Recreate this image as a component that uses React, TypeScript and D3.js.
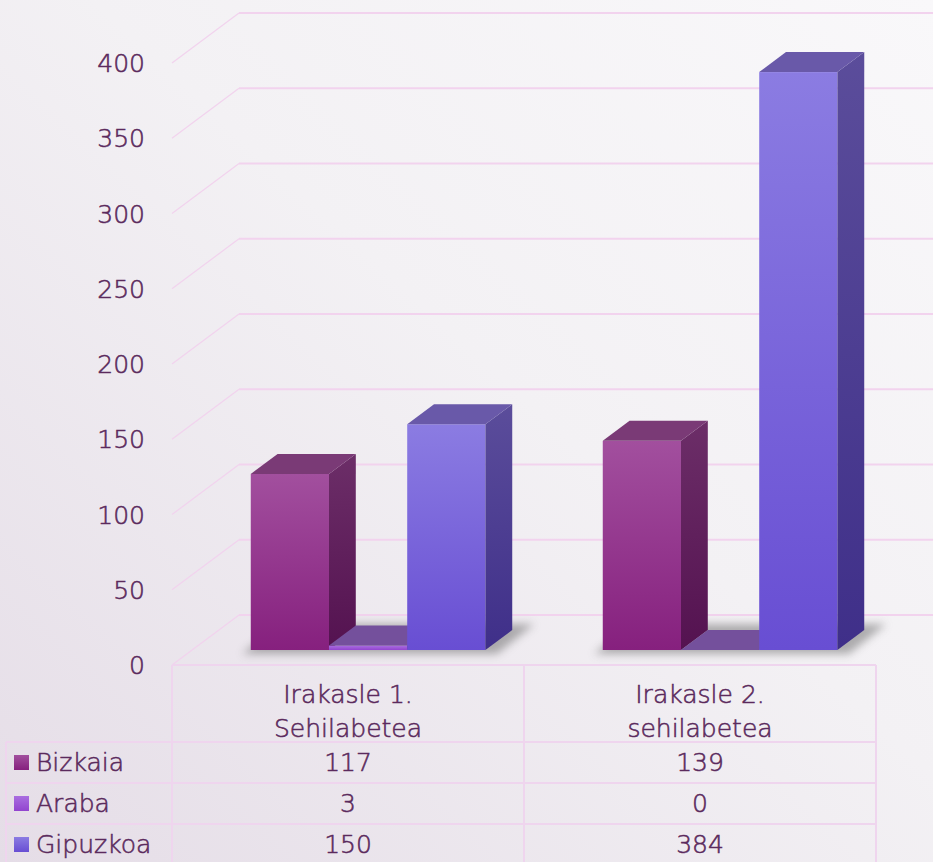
import React from 'react';
import * as d3 from 'd3';

// chart data
const categories = ['c1', 'c2'];
const categoryLabels = [['Irakasle 1.', 'Sehilabetea'], ['Irakasle 2.', 'sehilabetea']];
const series = ['Bizkaia', 'Araba', 'Gipuzkoa'];
const bizkaia = [117, 139];
const araba = [3, 0];
const gipuzkoa = [150, 384];
const yTicks = [0, 50, 100, 150, 200, 250, 300, 350, 400];

const seriesValues = [bizkaia, araba, gipuzkoa];

const colors = [
    { f0: '#a24f9e', f1: '#86207e', s0: '#6c2e68', s1: '#541250', top: '#7a3a76' },
    { f0: '#a96ee0', f1: '#9244cf', s0: '#6a3c8c', s1: '#5a2c7c', top: '#74509c' },
    { f0: '#8b7ce2', f1: '#684ed3', s0: '#5b4d9b', s1: '#3f2f89', top: '#6959a9' },
];

const W = 933, H = 862;
const left = 172, right = 876;
const DX = 67, DY = -50; // depth of the floor
const zF = 0.3, zB = 0.7; // bar depth range
const textColor = '#5b2a5d';
const gridColor = '#f2d3ee';
const font = 'DejaVu Sans';

const textStyle = { fontFamily: font, fontWeight: 200, fontSize: 25, fill: textColor, stroke: textColor, strokeWidth: 0.55 };

const App = () => {
    const x0 = d3.scaleBand().domain(categories).range([left, right]);
    const x1 = d3.scaleBand().domain(series).range([0, x0.bandwidth()]).paddingOuter(0.75);
    const y = d3.scaleLinear().domain([0, 400]).range([665, 63]);

    const pts = (p: number[][]) => p.map(d => d.join(',')).join(' ');

    const rowTop = 742, rowH = 41;

    return (
        <svg width={W} height={H} style={{ position: 'absolute', left: 0, top: 0, display: 'block' }}>
            <defs>
                <linearGradient id="bg" x1="1" y1="0" x2="0" y2="1">
                    <stop offset="0" stopColor="#f9f8fa" />
                    <stop offset="0.45" stopColor="#f3f1f4" />
                    <stop offset="1" stopColor="#e5dde7" />
                </linearGradient>
                {colors.map((c, i) => (
                    <React.Fragment key={i}>
                        <linearGradient id={'front' + i} x1="0" y1="0" x2="0" y2="1">
                            <stop offset="0" stopColor={c.f0} />
                            <stop offset="1" stopColor={c.f1} />
                        </linearGradient>
                        <linearGradient id={'side' + i} x1="0" y1="0" x2="0" y2="1">
                            <stop offset="0" stopColor={c.s0} />
                            <stop offset="1" stopColor={c.s1} />
                        </linearGradient>
                    </React.Fragment>
                ))}
                <filter id="blur" x="-20%" y="-50%" width="140%" height="200%">
                    <feGaussianBlur stdDeviation="4" />
                </filter>
            </defs>
            <rect x={0} y={0} width={W} height={H} fill="url(#bg)" />

            {/* walls grid */}
            <g stroke={gridColor} fill="none">
                {yTicks.map(t => (
                    <g key={t}>
                        <line x1={left} y1={y(t)} x2={left + DX} y2={y(t) + DY} strokeWidth={1.2} />
                        <line x1={left + DX} y1={y(t) + DY} x2={W + 20} y2={y(t) + DY} strokeWidth={2} />
                    </g>
                ))}
            </g>

            {/* shadows */}
            {categories.map(c => {
                const bx = x0(c)!;
                const a = bx + x1(series[0])! - 6;
                const b = bx + x1(series[2])! + x1.bandwidth() + 14;
                const zf = zF - 0.04, zb = zB + 0.12;
                const yb = y(0);
                return (
                    <polygon key={c} filter="url(#blur)" fill="#666" opacity={0.5}
                        points={pts([[a + DX * zf, yb + DY * zf + 2], [b + DX * zf, yb + DY * zf + 2],
                            [b + DX * zb, yb + DY * zb], [a + DX * zb, yb + DY * zb]])} />
                );
            })}

            {/* bars */}
            {categories.map((c, ci) => series.map((s, si) => {
                const v = seriesValues[si][ci];
                const xa = x0(c)! + x1(s)!;
                const xb = xa + x1.bandwidth();
                const fx = DX * zF, fy = DY * zF;
                const bxo = DX * (zB - zF), byo = DY * (zB - zF);
                const yt = y(v) + fy, yb = y(0) + fy;
                return (
                    <g key={c + s}>
                        <rect x={xa + fx} y={yt} width={xb - xa} height={yb - yt} fill={`url(#front${si})`} />
                        <polygon fill={`url(#side${si})`}
                            points={pts([[xb + fx, yt], [xb + fx + bxo, yt + byo], [xb + fx + bxo, yb + byo], [xb + fx, yb]])} />
                        <polygon fill={colors[si].top}
                            points={pts([[xa + fx, yt], [xb + fx, yt], [xb + fx + bxo, yt + byo], [xa + fx + bxo, yt + byo]])} />
                    </g>
                );
            }))}

            {/* y axis labels */}
            <g style={textStyle} textAnchor="end">
                {yTicks.map(t => (
                    <text key={t} x={145} y={y(t) + 9}>{t}</text>
                ))}
            </g>

            {/* data table */}
            <g stroke="#efd5ee" strokeWidth={2} fill="none">
                <line x1={left} y1={y(0)} x2={right} y2={y(0)} />
                <line x1={6} y1={rowTop} x2={right} y2={rowTop} />
                {series.map((s, i) => (
                    <line key={s} x1={6} y1={rowTop + rowH * (i + 1)} x2={right} y2={rowTop + rowH * (i + 1)} />
                ))}
                <line x1={6} y1={rowTop} x2={6} y2={H} />
                {[left, x0(categories[1])!, right].map((xx, i) => (
                    <line key={i} x1={xx} y1={y(0)} x2={xx} y2={H} />
                ))}
            </g>
            <g style={textStyle} textAnchor="middle">
                {categories.map((c, ci) => (
                    <g key={c}>
                        {categoryLabels[ci].map((l, li) => (
                            <text key={li} x={x0(c)! + x0.bandwidth() / 2} y={703 + li * 34}>{l}</text>
                        ))}
                        {series.map((s, si) => (
                            <text key={s} x={x0(c)! + x0.bandwidth() / 2} y={rowTop + rowH * si + 29}>{seriesValues[si][ci]}</text>
                        ))}
                    </g>
                ))}
            </g>
            <g>
                {series.map((s, si) => (
                    <g key={s}>
                        <rect x={14} y={rowTop + rowH * si + 13} width={15} height={15} fill={`url(#front${si})`} />
                        <text x={36} y={rowTop + rowH * si + 29} style={textStyle}>{s}</text>
                    </g>
                ))}
            </g>
        </svg>
    );
};

export default App;
